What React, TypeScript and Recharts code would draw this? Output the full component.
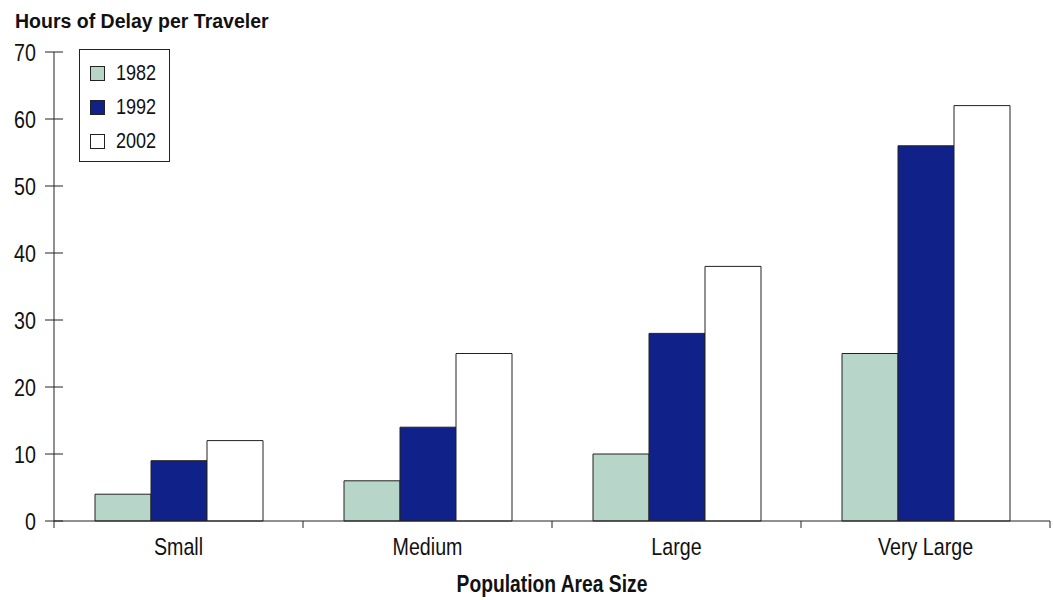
import { Bar, BarChart, Legend, XAxis, YAxis } from "recharts";

const categories = ["Small", "Medium", "Large", "Very Large"];
const delay1982 = [4, 6, 10, 25];
const delay1992 = [9, 14, 28, 56];
const delay2002 = [12, 25, 38, 62];
const yTicks = [0, 10, 20, 30, 40, 50, 60, 70];

const series = [
  { key: "y1982", name: "1982", color: "#B8D5CA" },
  { key: "y1992", name: "1992", color: "#10228A" },
  { key: "y2002", name: "2002", color: "#FFFFFF" },
];

const rows = categories.map((c, i) => ({
  category: c,
  y1982: delay1982[i],
  y1992: delay1992[i],
  y2002: delay2002[i],
}));

// no narrow face installed, so squeeze Liberation Sans horizontally
const FONT = "'Liberation Sans', Arial, sans-serif";
const SQUEEZE = 0.82;
const INK = "#222";

// y tick: short line crossing the axis + right-aligned number
function ValueTick(props: { x?: number; y?: number; payload?: { value?: number } }) {
  const { x = 0, y = 0, payload } = props;
  return (
    <g>
      <line x1={x - 9} x2={x + 9} y1={y} y2={y} stroke={INK} strokeWidth={1} />
      <text
        transform={`translate(${x - 18},${y}) scale(${SQUEEZE},1)`}
        dy="0.36em"
        textAnchor="end"
        fill="#111"
        fontFamily={FONT}
        fontSize={24}
      >
        {payload?.value}
      </text>
    </g>
  );
}

// x tick: label at the band centre, tick marks on the band edges
function CategoryTick(props: {
  x?: number;
  y?: number;
  index?: number;
  visibleTicksCount?: number;
  payload?: { value?: string; offset?: number };
}) {
  const { x = 0, y = 0, index = 0, visibleTicksCount = 0, payload } = props;
  const half = payload?.offset ?? 0;
  return (
    <g>
      <line x1={x - half} x2={x - half} y1={y} y2={y + 7} stroke={INK} />
      {index === visibleTicksCount - 1 && <line x1={x + half} x2={x + half} y1={y} y2={y + 7} stroke={INK} />}
      <text
        transform={`translate(${x},${y + 34}) scale(${SQUEEZE},1)`}
        textAnchor="middle"
        fill="#111"
        fontFamily={FONT}
        fontSize={24}
      >
        {payload?.value}
      </text>
    </g>
  );
}

function AxisTitle(props: { viewBox?: { x?: number; y?: number; width?: number; height?: number } }) {
  const { x = 0, y = 0, width = 0, height = 0 } = props.viewBox ?? {};
  return (
    <text
      transform={`translate(${x + width / 2},${y + height - 8}) scale(${SQUEEZE},1)`}
      textAnchor="middle"
      fill="#111"
      fontFamily={FONT}
      fontWeight={700}
      fontSize={23.5}
    >
      Population Area Size
    </text>
  );
}

function LegendBox() {
  return (
    <div
      style={{
        width: 91,
        height: 113,
        boxSizing: "border-box",
        border: `1px solid ${INK}`,
        background: "#fff",
        paddingTop: 6,
      }}
    >
      {series.map((s) => (
        <div key={s.key} style={{ height: 34, display: "flex", alignItems: "center" }}>
          <span
            style={{
              display: "inline-block",
              flex: "none",
              width: 15,
              height: 15,
              boxSizing: "border-box",
              marginLeft: 10,
              marginRight: 11,
              background: s.color,
              border: `1px solid ${INK}`,
            }}
          />
          <span
            style={{
              display: "inline-block",
              fontFamily: FONT,
              fontSize: 22,
              color: "#111",
              transform: `scaleX(${SQUEEZE})`,
              transformOrigin: "left center",
            }}
          >
            {s.name}
          </span>
        </div>
      ))}
    </div>
  );
}

export default function App() {
  return (
    <div style={{ position: "absolute", left: 0, top: 0, width: 1053, height: 600, background: "#fff" }}>
      <div
        style={{
          position: "absolute",
          left: 15,
          top: 12,
          fontFamily: FONT,
          fontWeight: 700,
          fontSize: 19.5,
          lineHeight: "19px",
          color: "#111",
          whiteSpace: "nowrap",
        }}
      >
        Hours of Delay per Traveler
      </div>
      <BarChart
        width={1053}
        height={600}
        data={rows}
        margin={{ top: 52, right: 3, left: 0, bottom: 0 }}
        barCategoryGap={41}
        barGap={0}
      >
        <XAxis
          dataKey="category"
          height={79}
          axisLine={{ stroke: INK }}
          tickLine={false}
          tickSize={0}
          tickMargin={0}
          interval={0}
          tick={<CategoryTick />}
          label={<AxisTitle />}
        />
        <YAxis
          width={54}
          domain={[0, 70]}
          ticks={yTicks}
          interval={0}
          axisLine={{ stroke: INK }}
          tickLine={false}
          tickSize={0}
          tickMargin={0}
          tick={<ValueTick />}
        />
        <Legend
          layout="vertical"
          align="center"
          verticalAlign="middle"
          content={() => <LegendBox />}
          wrapperStyle={{ left: 79, top: 49, width: 91, height: 113 }}
        />
        {series.map((s) => (
          <Bar
            key={s.key}
            dataKey={s.key}
            name={s.name}
            fill={s.color}
            stroke={INK}
            strokeWidth={1}
            isAnimationActive={false}
          />
        ))}
      </BarChart>
    </div>
  );
}
